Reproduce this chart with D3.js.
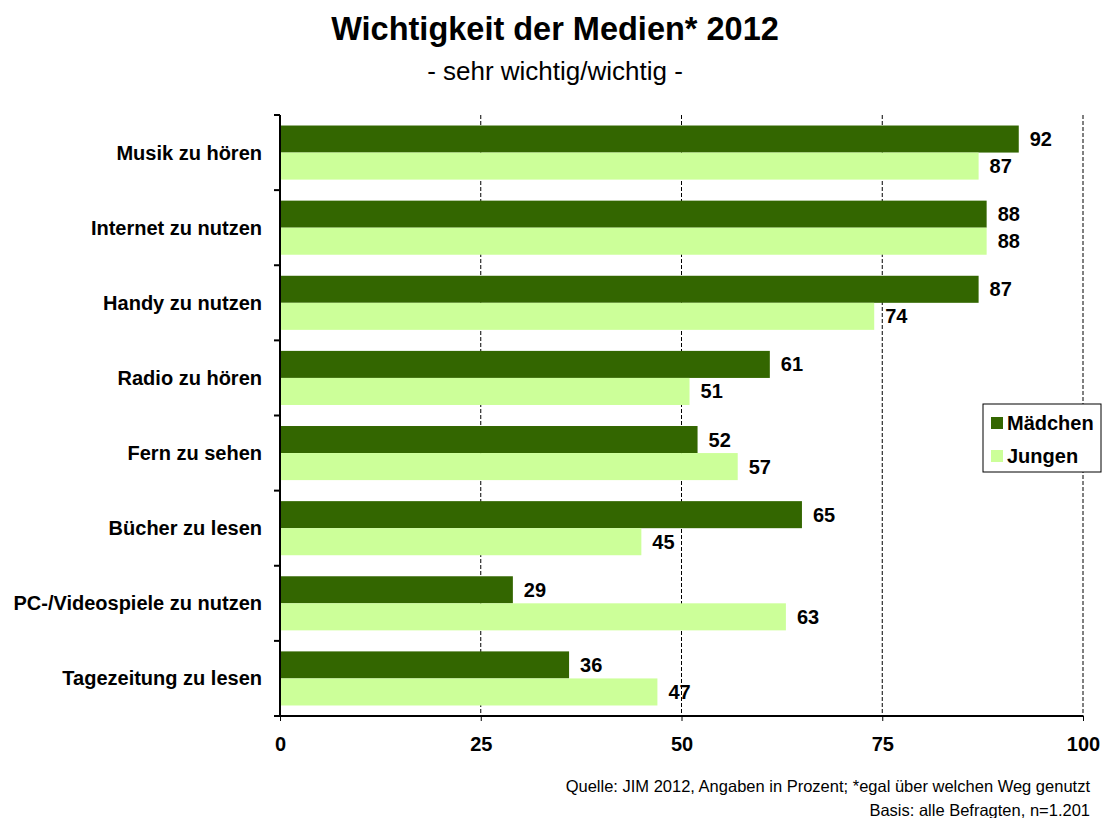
<!DOCTYPE html>
<meta charset="utf-8">
<style>
body { margin: 0; background: #fff; }
svg { font-family: Arial, "Liberation Sans", sans-serif; }
</style>
<body>
<script src="https://d3js.org/d3.v7.min.js"></script>
<script>
var categories = ["Musik zu hören", "Internet zu nutzen", "Handy zu nutzen", "Radio zu hören",
  "Fern zu sehen", "Bücher zu lesen", "PC-/Videospiele zu nutzen", "Tagezeitung zu lesen"];
var maedchen = [92, 88, 87, 61, 52, 65, 29, 36];
var jungen = [87, 88, 74, 51, 57, 45, 63, 47];
var seriesNames = ["Mädchen", "Jungen"];
var ticks = [0, 25, 50, 75, 100];

var width = 1104, height = 818;
var plotLeft = 280, plotRight = 1083, plotTop = 115, plotBottom = 716;
var colors = ["#336600", "#ccff99"];

var svg = d3.select("body").append("svg")
    .attr("width", width)
    .attr("height", height);

var x = d3.scaleLinear().domain([0, 100]).range([plotLeft, plotRight]);
var y = d3.scaleBand().domain(categories).range([plotTop, plotBottom]).paddingInner(0.28).paddingOuter(0.14);
var sub = d3.scaleBand().domain(seriesNames).range([0, y.bandwidth()]);

// title
svg.append("text").attr("x", 555).attr("y", 40).attr("text-anchor", "middle")
    .style("font-size", "32.5px").style("font-weight", "bold").text("Wichtigkeit der Medien* 2012");
svg.append("text").attr("x", 555).attr("y", 80).attr("text-anchor", "middle")
    .style("font-size", "26px").text("- sehr wichtig/wichtig -");

// dashed grid
svg.selectAll("line.grid")
    .data(ticks.slice(1))
  .enter().append("line")
    .attr("class", "grid")
    .attr("x1", function(d) { return x(d); })
    .attr("x2", function(d) { return x(d); })
    .attr("y1", plotTop).attr("y2", plotBottom)
    .attr("stroke", "#000").attr("stroke-width", 1).attr("stroke-dasharray", "4,2");

// bars
var data = [];
categories.forEach(function(c, i) {
  data.push({cat: c, s: 0, v: maedchen[i]});
  data.push({cat: c, s: 1, v: jungen[i]});
});

svg.selectAll("rect.bar")
    .data(data)
  .enter().append("rect")
    .attr("class", "bar")
    .attr("x", x(0))
    .attr("y", function(d) { return y(d.cat) + sub(seriesNames[d.s]); })
    .attr("width", function(d) { return x(d.v) - x(0); })
    .attr("height", sub.bandwidth())
    .attr("fill", function(d) { return colors[d.s]; });

svg.selectAll("text.val")
    .data(data)
  .enter().append("text")
    .attr("class", "val")
    .attr("x", function(d) { return x(d.v) + 11; })
    .attr("y", function(d) { return y(d.cat) + sub(seriesNames[d.s]) + sub.bandwidth() / 2 + 7; })
    .style("font-size", "20px").style("font-weight", "bold")
    .text(function(d) { return d.v; });

// x axis
var xAxis = svg.append("g")
    .attr("transform", "translate(0," + plotBottom + ")")
    .call(d3.axisBottom(x).tickValues(ticks).tickSize(5).tickPadding(16));
xAxis.select(".domain").attr("stroke-width", 2).attr("d", "M" + (plotLeft - 6) + ",0H" + plotRight);
xAxis.selectAll("text").style("font-size", "20px").style("font-weight", "bold")
    .style("font-family", "Arial, 'Liberation Sans', sans-serif").attr("fill", "#000");

// y axis line + ticks between categories
svg.append("line").attr("x1", plotLeft).attr("x2", plotLeft).attr("y1", plotTop).attr("y2", plotBottom + 1)
    .attr("stroke", "#000").attr("stroke-width", 2);
var boundaries = d3.range(categories.length + 1).map(function(i) { return plotTop + i * (plotBottom - plotTop) / categories.length; });
svg.selectAll("line.ytick")
    .data(boundaries)
  .enter().append("line")
    .attr("x1", plotLeft - 6).attr("x2", plotLeft)
    .attr("y1", function(d) { return d; }).attr("y2", function(d) { return d; })
    .attr("stroke", "#000").attr("stroke-width", 2);

svg.selectAll("text.cat")
    .data(categories)
  .enter().append("text")
    .attr("x", 262)
    .attr("y", function(d) { return y(d) + y.bandwidth() / 2 + 7; })
    .attr("text-anchor", "end")
    .style("font-size", "20px").style("font-weight", "bold")
    .text(function(d) { return d; });

// legend
var lg = svg.append("g").attr("transform", "translate(983,404)");
lg.append("rect").attr("width", 118).attr("height", 68).attr("fill", "#fff").attr("stroke", "#000").attr("stroke-width", 1);
seriesNames.forEach(function(n, i) {
  lg.append("rect").attr("x", 8).attr("y", 13 + i * 33).attr("width", 12).attr("height", 12).attr("fill", colors[i]);
  lg.append("text").attr("x", 24).attr("y", 26 + i * 33)
      .style("font-size", "20px").style("font-weight", "bold").text(n);
});

// footnotes
svg.append("text").attr("x", 1090).attr("y", 792).attr("text-anchor", "end")
    .style("font-size", "16.5px").text("Quelle: JIM 2012, Angaben in Prozent; *egal über welchen Weg genutzt");
svg.append("text").attr("x", 1090).attr("y", 816).attr("text-anchor", "end")
    .style("font-size", "16.5px").text("Basis: alle Befragten, n=1.201");
</script>
